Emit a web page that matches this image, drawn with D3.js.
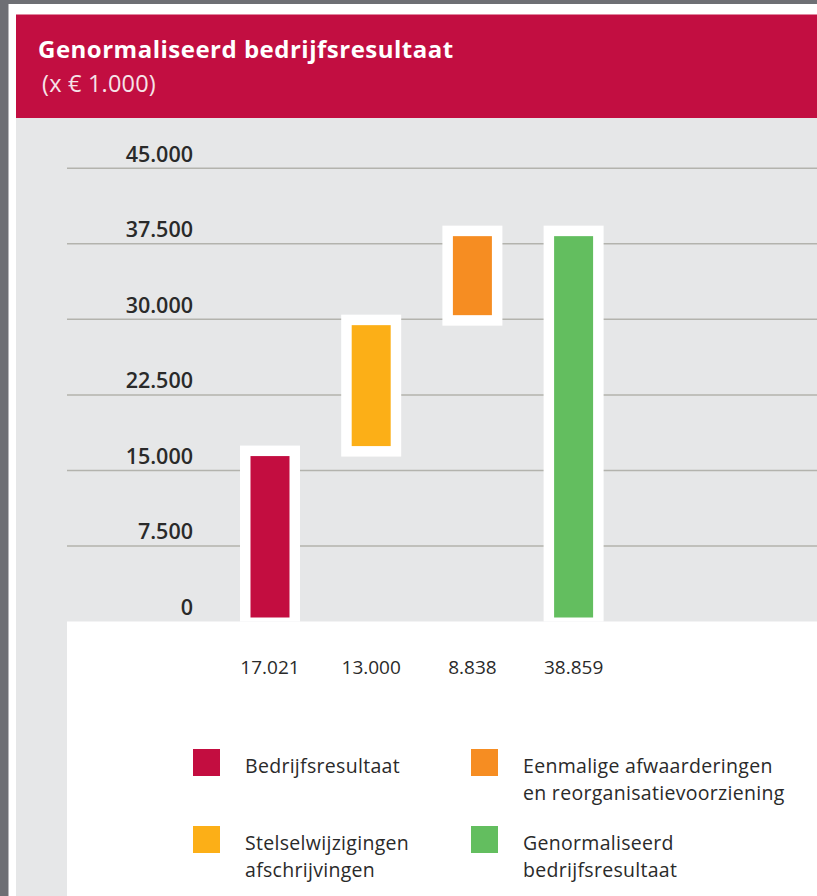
<!DOCTYPE html>
<html>
<head>
<meta charset="utf-8">
<script src="https://cdn.jsdelivr.net/npm/d3@7"></script>
<style>
  body { margin: 0; background: #fff; }
  svg { display: block; font-family: "Open Sans", sans-serif; }
</style>
</head>
<body>
<div id="chart"></div>
<script>
// data
const categories = ["Bedrijfsresultaat", "Stelselwijzigingen afschrijvingen", "Eenmalige afwaarderingen en reorganisatievoorziening", "Genormaliseerd bedrijfsresultaat"]
const values = [17021, 13000, 8838, 38859]
const isTotal = [false, false, false, true]
const colors = ["#c30d40", "#fcaf17", "#f68d22", "#63be5f"]
const yTicks = [0, 7500, 15000, 22500, 30000, 37500, 45000]

const legendRows = [
    {label: ["Bedrijfsresultaat"], color: "#c30d40"},
    {label: ["Eenmalige afwaarderingen", "en reorganisatievoorziening"], color: "#f68d22"},
    {label: ["Stelselwijzigingen", "afschrijvingen"], color: "#fcaf17"},
    {label: ["Genormaliseerd", "bedrijfsresultaat"], color: "#63be5f"}
]

const width = 817
const height = 896

const nl = d3.formatLocale({decimal: ",", thousands: ".", grouping: [3], currency: ["€", ""]})
const fmt = nl.format(",.0f")

// waterfall start/end
let running = 0
const bars = values.map((v, i) => {
    let start, end
    if (isTotal[i]) { start = 0; end = v }
    else { start = running; end = running + v; running = end }
    return {name: categories[i], value: v, start, end, color: colors[i]}
})

const svg = d3.select("#chart").append("svg").attr("width", width).attr("height", height)

// frame
svg.append("rect").attr("x", 0).attr("y", 0).attr("width", width).attr("height", height).attr("fill", "#6e6f74")
svg.append("rect").attr("x", 8.5).attr("y", 4).attr("width", width).attr("height", height).attr("fill", "#fff")
svg.append("rect").attr("x", 16).attr("y", 118).attr("width", width).attr("height", height).attr("fill", "#e6e7e8")
svg.append("rect").attr("x", 16).attr("y", 14.5).attr("width", width).attr("height", 103.5).attr("fill", "#c20e41")
svg.append("rect").attr("x", 67).attr("y", 621.5).attr("width", width).attr("height", height).attr("fill", "#fff")

// header
svg.append("text").attr("x", 38).attr("y", 58).attr("fill", "#fff")
    .attr("font-size", 24).attr("font-weight", 700).attr("letter-spacing", 0.5)
    .text("Genormaliseerd bedrijfsresultaat")
svg.append("text").attr("x", 42).attr("y", 92).attr("fill", "#f6e3e8")
    .attr("font-size", 23.5).attr("font-weight", 400).attr("letter-spacing", 0.2)
    .text("(x € 1.000)")

// scales
const y = d3.scaleLinear().domain([0, 45000]).range([621.5, 168.3])
const x = d3.scaleBand().domain(categories).range([219.4, 624.2]).padding(0)
const barW = 39
const pad = 10.5

// grid
const yAxis = d3.axisLeft(y).tickValues(yTicks).tickFormat(fmt).tickSize(0)
const grid = svg.append("g")
grid.selectAll("line").data(yTicks.filter(d => d > 0)).enter().append("line")
    .attr("x1", 67).attr("x2", width)
    .attr("y1", d => y(d)).attr("y2", d => y(d))
    .attr("stroke", "#b3b3ad").attr("stroke-width", 1.5)

const yAxisGroup = svg.append("g").attr("transform", "translate(193, -7)").call(yAxis)
yAxisGroup.select(".domain").remove()
yAxisGroup.selectAll("text")
    .attr("x", 0).attr("dy", 0)
    .attr("font-family", "Open Sans, sans-serif")
    .attr("font-size", 21.5).attr("font-weight", 600).attr("fill", "#2a2a2a")

// bars
const cx = d => x(d.name) + x.bandwidth() / 2
const g = svg.append("g")
g.selectAll(".border").data(bars).enter().append("rect").attr("class", "border")
    .attr("x", d => cx(d) - barW / 2 - pad)
    .attr("width", barW + pad * 2)
    .attr("y", d => y(d.end) + 6 - pad)
    .attr("height", d => Math.min(y(d.start) - 4 + pad, y(0)) - (y(d.end) + 6 - pad))
    .attr("fill", "#fff")
g.selectAll(".bar").data(bars).enter().append("rect").attr("class", "bar")
    .attr("x", d => cx(d) - barW / 2)
    .attr("width", barW)
    .attr("y", d => y(d.end) + 6)
    .attr("height", d => (y(d.start) - 4) - (y(d.end) + 6))
    .attr("fill", d => d.color)

// value labels
g.selectAll(".val").data(bars).enter().append("text").attr("class", "val")
    .attr("x", d => cx(d)).attr("y", 674)
    .attr("text-anchor", "middle").attr("font-size", 19).attr("fill", "#2a2a2a")
    .text(d => fmt(d.value))

// legend
const legendPos = [[193, 749], [471, 749], [193, 826], [471, 826]]
const leg = svg.append("g").selectAll("g").data(legendRows).enter().append("g")
    .attr("transform", (d, i) => `translate(${legendPos[i][0]}, ${legendPos[i][1]})`)
leg.append("rect").attr("width", 27).attr("height", 27).attr("fill", d => d.color)
leg.each(function(d) {
    const t = d3.select(this).append("text").attr("x", 52).attr("y", 24)
        .attr("font-size", 19.5).attr("letter-spacing", 0.3).attr("fill", "#2a2a2a")
    d.label.forEach((line, j) => {
        t.append("tspan").attr("x", 52).attr("dy", j === 0 ? 0 : 26.8).text(line)
    })
})
</script>
</body>
</html>
